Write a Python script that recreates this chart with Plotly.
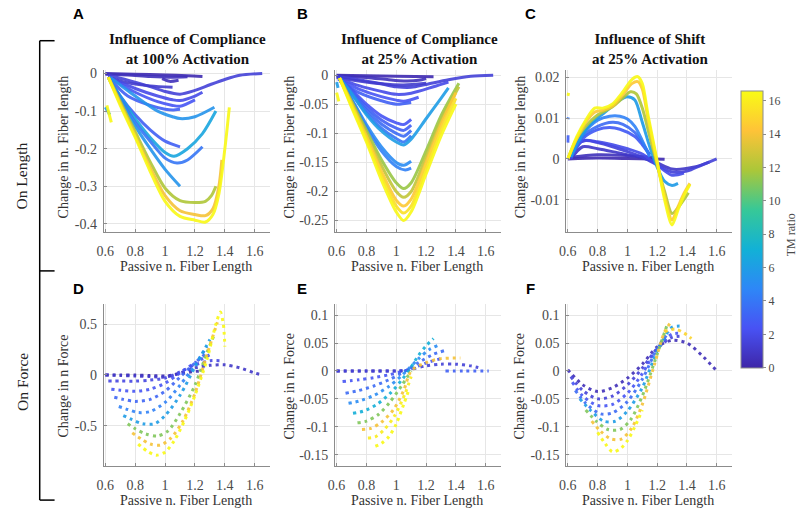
import plotly.graph_objects as go
from plotly.colors import sample_colorscale

W, H = 800, 512

# parula colormap (8 samples)
parula = [[0.0, "#3e26a8"], [0.1429, "#4852f4"], [0.2857, "#2e87f7"], [0.4286, "#12b1d6"],
          [0.5714, "#37c897"], [0.7143, "#abc739"], [0.8571, "#fec338"], [1.0, "#f9fb15"]]
TM_MAX = 16.6
cb_ticks = [0, 2, 4, 6, 8, 10, 12, 14, 16]

x_ticks = [0.6, 0.8, 1.0, 1.2, 1.4, 1.6]
x_tick_text = ["0.6", "0.8", "1", "1.2", "1.4", "1.6"]

# ---- panel A : compliance, 100% activation, on length
a_tm = [0.3, 0.6, 0.6, 1.5, 1.2, 2.0, 2.5, 3.0, 5.5, 3.0, 6.5, 4.0, 5.5, 12.0, 14.0, 16.5, 6.0, 16.5]
a_x = [
    [0.60, 0.80, 1.00, 1.15, 1.25],
    [0.60, 0.75, 0.90, 1.05, 1.15],
    [0.98, 1.03, 1.09],
    [0.62, 0.75, 0.90, 1.00, 1.10, 1.20, 1.30, 1.40, 1.50, 1.65],
    [0.63, 0.75, 0.90, 1.05],
    [0.62, 0.80, 0.95, 1.05, 1.10, 1.20, 1.25],
    [0.62, 0.80, 0.95, 1.05, 1.10, 1.20],
    [0.62, 0.75, 0.90, 1.00, 1.05, 1.10],
    [0.63, 0.80, 0.95, 1.05, 1.10, 1.20, 1.33],
    [0.62, 0.70, 0.80, 0.90, 1.00, 1.10],
    [0.62, 0.70, 0.80, 0.90, 1.00, 1.06, 1.15, 1.25, 1.34],
    [0.62, 0.70, 0.80, 0.90, 1.00, 1.08, 1.15, 1.25],
    [0.62, 0.70, 0.80, 0.90, 1.00, 1.10],
    [0.62, 0.70, 0.80, 0.90, 1.00, 1.10, 1.20, 1.27, 1.31, 1.34],
    [0.62, 0.70, 0.80, 0.90, 1.00, 1.10, 1.20, 1.27, 1.32, 1.36, 1.38],
    [0.62, 0.70, 0.80, 0.90, 1.00, 1.10, 1.20, 1.27, 1.32, 1.36, 1.40, 1.43],
    [0.60, 0.63],
    [0.61, 0.64],
]
a_y = [
    [0.0, -0.002, -0.004, -0.006, -0.008],
    [-0.002, -0.004, -0.008, -0.010, -0.009],
    [-0.014, -0.021, -0.018],
    [-0.005, -0.018, -0.035, -0.048, -0.055, -0.045, -0.030, -0.016, -0.005, 0.0],
    [-0.012, -0.025, -0.033, -0.037],
    [-0.010, -0.040, -0.060, -0.070, -0.072, -0.060, -0.050],
    [-0.010, -0.050, -0.075, -0.085, -0.087, -0.070],
    [-0.010, -0.060, -0.085, -0.095, -0.097, -0.095],
    [-0.010, -0.060, -0.100, -0.115, -0.120, -0.115, -0.090],
    [-0.010, -0.060, -0.110, -0.150, -0.180, -0.195],
    [-0.010, -0.060, -0.120, -0.170, -0.210, -0.220, -0.200, -0.160, -0.100],
    [-0.010, -0.065, -0.130, -0.180, -0.225, -0.238, -0.230, -0.195],
    [-0.010, -0.070, -0.140, -0.200, -0.255, -0.300],
    [-0.010, -0.075, -0.155, -0.235, -0.305, -0.338, -0.343, -0.340, -0.325, -0.300],
    [-0.010, -0.080, -0.165, -0.250, -0.325, -0.365, -0.375, -0.378, -0.360, -0.300, -0.230],
    [-0.010, -0.085, -0.170, -0.260, -0.340, -0.380, -0.390, -0.395, -0.375, -0.320, -0.200, -0.090],
    [-0.090, -0.110],
    [-0.085, -0.130],
]
a_yticks = [0, -0.1, -0.2, -0.3, -0.4]
a_yticktext = ["0", "-0.1", "-0.2", "-0.3", "-0.4"]

# ---- panel B : compliance, 25% activation, on length
b_tm = [0.3, 0.6, 1.5, 1.2, 2.0, 2.5, 3.0, 2.5, 3.0, 3.5, 4.0, 6.0, 5.0, 4.5,
        11.5, 12.5, 14.5, 15.5, 16.5, 16.5, 6.0]
b_x = [
    [0.60, 0.80, 1.00, 1.25],
    [0.60, 0.80, 0.95, 1.05, 1.15, 1.20],
    [0.60, 0.75, 0.90, 1.00, 1.10, 1.20, 1.35, 1.50, 1.65],
    [0.60, 0.75, 0.90, 1.05, 1.20],
    [0.61, 0.75, 0.90, 1.00, 1.10, 1.25, 1.35],
    [0.61, 0.75, 0.90, 1.00, 1.05, 1.15],
    [0.62, 0.75, 0.90, 1.00, 1.10],
    [0.62, 0.70, 0.80, 0.90, 1.00, 1.05, 1.10],
    [0.62, 0.70, 0.80, 0.90, 1.00, 1.05, 1.10],
    [0.62, 0.70, 0.80, 0.90, 1.00, 1.05, 1.10],
    [0.62, 0.70, 0.80, 0.90, 1.00, 1.05, 1.10],
    [0.62, 0.70, 0.80, 0.90, 1.00, 1.05, 1.10, 1.20, 1.30, 1.35],
    [0.62, 0.70, 0.80, 0.90, 1.00, 1.05, 1.10],
    [0.62, 0.70, 0.80, 0.90, 1.00, 1.06, 1.10],
    [0.62, 0.70, 0.80, 0.90, 1.00, 1.05, 1.10, 1.20, 1.30, 1.42],
    [0.62, 0.70, 0.80, 0.90, 1.00, 1.05, 1.10, 1.20, 1.30, 1.42],
    [0.62, 0.70, 0.80, 0.90, 1.00, 1.05, 1.10, 1.20, 1.30, 1.40],
    [0.62, 0.70, 0.80, 0.90, 1.00, 1.05, 1.10, 1.20, 1.30, 1.40],
    [0.62, 0.70, 0.80, 0.90, 1.00, 1.05, 1.10, 1.20, 1.30, 1.40],
    [0.60, 0.615],
    [0.60, 0.61],
]
b_y = [
    [0.0, -0.001, -0.002, -0.003],
    [-0.001, -0.004, -0.008, -0.010, -0.009, -0.006],
    [-0.002, -0.008, -0.015, -0.020, -0.021, -0.016, -0.008, -0.002, 0.0],
    [-0.004, -0.010, -0.015, -0.017, -0.014],
    [-0.005, -0.018, -0.028, -0.033, -0.031, -0.020, -0.012],
    [-0.007, -0.024, -0.037, -0.043, -0.045, -0.038],
    [-0.010, -0.030, -0.044, -0.050, -0.047],
    [-0.005, -0.025, -0.050, -0.070, -0.082, -0.085, -0.076],
    [-0.005, -0.027, -0.055, -0.077, -0.091, -0.095, -0.086],
    [-0.005, -0.029, -0.060, -0.084, -0.100, -0.105, -0.095],
    [-0.005, -0.031, -0.065, -0.091, -0.109, -0.115, -0.104],
    [-0.005, -0.032, -0.068, -0.096, -0.115, -0.120, -0.110, -0.075, -0.040, -0.022],
    [-0.005, -0.040, -0.085, -0.123, -0.150, -0.155, -0.148],
    [-0.005, -0.042, -0.090, -0.130, -0.157, -0.163, -0.160],
    [-0.005, -0.045, -0.095, -0.145, -0.185, -0.195, -0.185, -0.130, -0.070, -0.014],
    [-0.005, -0.047, -0.100, -0.155, -0.200, -0.210, -0.200, -0.140, -0.078, -0.020],
    [-0.005, -0.050, -0.105, -0.165, -0.215, -0.225, -0.213, -0.150, -0.085, -0.030],
    [-0.005, -0.052, -0.110, -0.172, -0.225, -0.237, -0.225, -0.160, -0.095, -0.040],
    [-0.005, -0.055, -0.115, -0.180, -0.235, -0.250, -0.235, -0.170, -0.105, -0.050],
    [-0.030, -0.045],
    [-0.012, -0.022],
]
b_yticks = [0, -0.05, -0.1, -0.15, -0.2, -0.25]
b_yticktext = ["0", "-0.05", "-0.1", "-0.15", "-0.2", "-0.25"]

# ---- panel C : shift, 25% activation, on length
c_tm = [0.3, 0.6, 1.0, 1.5, 2.0, 2.8, 3.5, 4.5, 6.0, 12.0, 14.5, 16.5, 16.5, 4.0, 3.0]
c_x = [
    [0.60, 0.80, 1.00, 1.25],
    [0.60, 0.80, 1.00, 1.20],
    [0.62, 0.70, 0.80, 0.90, 1.00, 1.10, 1.20, 1.30, 1.45, 1.55],
    [0.62, 0.66, 0.72, 0.80, 0.90, 1.00, 1.10, 1.15, 1.20, 1.30, 1.40, 1.50, 1.60],
    [0.62, 0.70, 0.80, 0.90, 1.00, 1.10, 1.20, 1.30, 1.38],
    [0.62, 0.70, 0.80, 0.88, 0.95, 1.05, 1.10, 1.15],
    [0.62, 0.70, 0.80, 0.90, 0.97, 1.05, 1.10, 1.15],
    [0.62, 0.70, 0.80, 0.88, 0.95, 1.00, 1.05, 1.10, 1.15],
    [0.62, 0.68, 0.75, 0.85, 0.95, 1.00, 1.05, 1.10, 1.15, 1.20, 1.25, 1.30, 1.34],
    [0.60, 0.66, 0.72, 0.80, 0.90, 0.97, 1.02, 1.06, 1.10, 1.15, 1.20, 1.25, 1.30, 1.35, 1.41],
    [0.60, 0.66, 0.72, 0.78, 0.84, 0.90, 0.97, 1.03, 1.07, 1.10, 1.14, 1.20, 1.25, 1.30, 1.34, 1.38, 1.42],
    [0.60, 0.66, 0.72, 0.78, 0.84, 0.90, 0.97, 1.03, 1.07, 1.10, 1.14, 1.20, 1.25, 1.30, 1.34, 1.38, 1.42],
    [0.600, 0.605],
    [0.600, 0.603],
    [0.600, 0.601],
]
c_y = [
    [0.0, 0.0002, 0.0001, -0.0001],
    [0.0003, 0.0010, 0.0008, 0.0003],
    [0.0, 0.0030, 0.0025, 0.0018, 0.0010, 0.0003, -0.0010, -0.0025, -0.0020, -0.0008],
    [0.0, 0.0035, 0.0045, 0.0040, 0.0030, 0.0018, 0.0005, -0.0005, -0.0015, -0.0032, -0.0030, -0.0015, 0.0],
    [0.0, 0.0045, 0.0042, 0.0035, 0.0025, 0.0012, -0.0015, -0.0040, -0.0035],
    [0.0005, 0.0050, 0.0072, 0.0077, 0.0073, 0.0055, 0.0035, 0.0010],
    [0.0005, 0.0055, 0.0080, 0.0090, 0.0085, 0.0065, 0.0040, 0.0010],
    [0.0005, 0.0060, 0.0095, 0.0105, 0.0105, 0.0098, 0.0080, 0.0045, 0.0005],
    [0.0005, 0.0050, 0.0085, 0.0115, 0.0145, 0.0153, 0.0145, 0.0090, 0.0030, -0.0020, -0.0055, -0.0065, -0.0060],
    [0.0, 0.0050, 0.0080, 0.0108, 0.0128, 0.0150, 0.0165, 0.0160, 0.0125, 0.0055, -0.0015, -0.0080, -0.0134, -0.0115, -0.0083],
    [0.0, 0.0050, 0.0090, 0.0115, 0.0120, 0.0130, 0.0158, 0.0185, 0.0190, 0.0172, 0.0095, -0.0010, -0.0090, -0.0150, -0.0118, -0.0085, -0.0060],
    [0.0, 0.0055, 0.0095, 0.0125, 0.0125, 0.0135, 0.0165, 0.0195, 0.0202, 0.0185, 0.0105, -0.0005, -0.0100, -0.0162, -0.0125, -0.0090, -0.0063],
    [0.0155, 0.0162],
    [0.0098, 0.0102],
    [0.0040, 0.0058],
]
c_yticks = [0.02, 0.01, 0, -0.01]
c_yticktext = ["0.02", "0.01", "0", "-0.01"]

# ---- panel D : compliance, 100% activation, on force
d_tm = [0.3, 1.0, 1.8, 2.5, 3.2, 4.5, 6.0, 11.0, 14.0, 16.5]
d_x = [
    [0.60, 0.70, 0.80, 0.90, 1.00, 1.05, 1.10, 1.20, 1.25],
    [0.60, 0.70, 0.80, 0.90, 1.00, 1.10, 1.20, 1.30, 1.40, 1.50, 1.60, 1.65],
    [0.62, 0.70, 0.80, 0.90, 1.00, 1.10, 1.20, 1.30, 1.38],
    [0.64, 0.70, 0.80, 0.90, 1.00, 1.10, 1.20, 1.30],
    [0.66, 0.72, 0.80, 0.90, 1.00, 1.10, 1.20, 1.28],
    [0.69, 0.75, 0.82, 0.90, 1.00, 1.10, 1.20, 1.28],
    [0.72, 0.78, 0.85, 0.93, 1.00, 1.10, 1.20, 1.30],
    [0.75, 0.80, 0.87, 0.95, 1.02, 1.10, 1.20, 1.28, 1.33],
    [0.78, 0.84, 0.90, 0.97, 1.04, 1.12, 1.20, 1.28, 1.35],
    [0.82, 0.88, 0.94, 1.00, 1.06, 1.13, 1.20, 1.28, 1.34, 1.37, 1.39, 1.40],
]
d_y = [
    [0.0, 0.0, 0.0, -0.005, -0.010, 0.0, 0.015, 0.035, 0.040],
    [0.0, -0.005, -0.010, -0.015, -0.020, 0.020, 0.070, 0.095, 0.100, 0.070, 0.020, 0.0],
    [-0.06, -0.06, -0.06, -0.05, -0.03, 0.03, 0.10, 0.14, 0.14],
    [-0.14, -0.15, -0.16, -0.14, -0.08, 0.02, 0.12, 0.20],
    [-0.22, -0.24, -0.26, -0.24, -0.16, -0.02, 0.12, 0.22],
    [-0.31, -0.34, -0.37, -0.36, -0.27, -0.10, 0.10, 0.28],
    [-0.40, -0.44, -0.48, -0.48, -0.40, -0.20, 0.08, 0.35],
    [-0.48, -0.53, -0.58, -0.60, -0.55, -0.38, -0.10, 0.22, 0.40],
    [-0.57, -0.63, -0.68, -0.69, -0.62, -0.45, -0.18, 0.20, 0.52],
    [-0.68, -0.75, -0.79, -0.76, -0.65, -0.45, -0.20, 0.15, 0.50, 0.62, 0.50, 0.28],
]
d_yticks = [0.5, 0, -0.5]
d_yticktext = ["0.5", "0", "-0.5"]

# ---- panel E : compliance, 25% activation, on force
e_tm = [0.3, 1.5, 2.5, 3.5, 5.0, 7.0, 11.0, 14.0, 16.0, 16.5, 3.0]
e_x = [
    [0.60, 0.80, 1.00, 1.05],
    [0.60, 0.80, 1.00, 1.10, 1.20, 1.30, 1.40, 1.50, 1.55],
    [0.64, 0.75, 0.85, 0.95, 1.03, 1.08, 1.15, 1.22, 1.30],
    [0.66, 0.75, 0.85, 0.95, 1.03, 1.08, 1.15, 1.25, 1.32],
    [0.68, 0.75, 0.85, 0.95, 1.03, 1.08, 1.15, 1.22, 1.28],
    [0.71, 0.78, 0.87, 0.96, 1.04, 1.09, 1.15, 1.20, 1.25],
    [0.74, 0.80, 0.88, 0.96, 1.04, 1.10],
    [0.77, 0.83, 0.90, 0.98, 1.05, 1.10, 1.20, 1.30, 1.43],
    [0.81, 0.86, 0.92, 0.99, 1.06, 1.10],
    [0.86, 0.90, 0.95, 1.00, 1.05, 1.09],
    [1.33, 1.45, 1.62],
]
e_y = [
    [0.0, 0.0, 0.0, 0.0],
    [0.0, 0.0, 0.0, 0.003, 0.009, 0.012, 0.012, 0.009, 0.006],
    [-0.019, -0.016, -0.012, -0.007, -0.002, 0.002, 0.009, 0.016, 0.022],
    [-0.040, -0.035, -0.027, -0.016, -0.005, 0.003, 0.015, 0.030, 0.036],
    [-0.058, -0.054, -0.044, -0.028, -0.010, 0.003, 0.022, 0.038, 0.046],
    [-0.076, -0.072, -0.060, -0.040, -0.015, 0.003, 0.028, 0.045, 0.058],
    [-0.093, -0.090, -0.078, -0.055, -0.025, 0.0],
    [-0.105, -0.103, -0.092, -0.070, -0.035, 0.0, 0.015, 0.022, 0.023],
    [-0.120, -0.118, -0.105, -0.080, -0.040, -0.010],
    [-0.135, -0.130, -0.118, -0.095, -0.060, -0.030],
    [0.0, 0.0, 0.0],
]
e_yticks = [0.1, 0.05, 0, -0.05, -0.1, -0.15]
e_yticktext = ["0.1", "0.05", "0", "-0.05", "-0.1", "-0.15"]

# ---- panel F : shift, 25% activation, on force
f_tm = [0.5, 1.5, 2.5, 3.5, 6.0, 11.0, 14.0, 16.5, 15.0]
f_x = [
    [0.60, 0.70, 0.80, 0.90, 1.00, 1.10, 1.20, 1.30, 1.40, 1.50, 1.60],
    [0.62, 0.70, 0.80, 0.90, 1.00, 1.10, 1.20, 1.30, 1.35],
    [0.63, 0.70, 0.80, 0.90, 1.00, 1.10, 1.20, 1.30, 1.36],
    [0.65, 0.72, 0.82, 0.90, 1.00, 1.10, 1.20, 1.28],
    [0.68, 0.75, 0.84, 0.92, 1.00, 1.10, 1.20, 1.30, 1.38],
    [0.72, 0.79, 0.87, 0.95, 1.02, 1.10, 1.20, 1.27],
    [0.76, 0.82, 0.89, 0.96, 1.03, 1.10, 1.18, 1.25, 1.30],
    [0.80, 0.85, 0.90, 0.95, 1.00, 1.05, 1.10],
    [1.25, 1.32, 1.38, 1.43],
]
f_y = [
    [0.002, -0.025, -0.037, -0.030, -0.013, 0.012, 0.043, 0.055, 0.050, 0.028, 0.0],
    [-0.010, -0.035, -0.050, -0.045, -0.025, 0.005, 0.040, 0.060, 0.062],
    [-0.020, -0.045, -0.062, -0.060, -0.040, -0.005, 0.040, 0.066, 0.067],
    [-0.035, -0.058, -0.077, -0.075, -0.055, -0.015, 0.040, 0.070],
    [-0.050, -0.070, -0.090, -0.090, -0.072, -0.030, 0.035, 0.078, 0.080],
    [-0.070, -0.090, -0.105, -0.105, -0.088, -0.045, 0.030, 0.085],
    [-0.090, -0.108, -0.122, -0.122, -0.102, -0.060, 0.010, 0.070, 0.090],
    [-0.110, -0.130, -0.145, -0.140, -0.125, -0.100, -0.070],
    [0.070, 0.075, 0.068, 0.058],
]
f_yticks = e_yticks
f_yticktext = e_yticktext

# panel boxes in pixels: left, right, top, bottom
panels = [
    dict(box=(97.7, 265, 66.7, 230), yr=[-0.422, 0.0087], tm=a_tm, xs=a_x, ys=a_y, yt=a_yticks, ytt=a_yticktext, dotted=False),
    dict(box=(331, 498, 66.7, 230), yr=[-0.270, 0.0085], tm=b_tm, xs=b_x, ys=b_y, yt=b_yticks, ytt=b_yticktext, dotted=False),
    dict(box=(564.3, 731, 66.7, 230), yr=[-0.018, 0.0218], tm=c_tm, xs=c_x, ys=c_y, yt=c_yticks, ytt=c_yticktext, dotted=False),
    dict(box=(97.7, 265, 302.3, 466), yr=[-0.90, 0.70], tm=d_tm, xs=d_x, ys=d_y, yt=d_yticks, ytt=d_yticktext, dotted=True),
    dict(box=(331, 498, 302.3, 466), yr=[-0.171, 0.12], tm=e_tm, xs=e_x, ys=e_y, yt=e_yticks, ytt=e_yticktext, dotted=True),
    dict(box=(564.3, 731, 302.3, 466), yr=[-0.171, 0.12], tm=f_tm, xs=f_x, ys=f_y, yt=f_yticks, ytt=f_yticktext, dotted=True),
]

SERIF = "Liberation Serif"
fig = go.Figure()
layout = {}

for i, p in enumerate(panels):
    n = i + 1
    sfx = "" if n == 1 else str(n)
    l, r, t, b = p["box"]
    for tm, x, y in zip(p["tm"], p["xs"], p["ys"]):
        col = sample_colorscale(parula, [tm / TM_MAX])[0]
        line = dict(color=col, width=3, shape="spline", smoothing=0.8)
        if p["dotted"]:
            line["dash"] = "3px,4px"
        fig.add_trace(go.Scatter(x=x, y=y, mode="lines", line=line, opacity=0.9,
                                 xaxis="x" + sfx, yaxis="y" + sfx, hoverinfo="skip"))
    common = dict(showline=True, linecolor="#8c8c8c", linewidth=1, showgrid=True,
                  gridcolor="#e6e6e6", zeroline=False, ticks="inside", ticklen=3,
                  tickcolor="#8c8c8c", tickfont=dict(family=SERIF, size=14, color="#4a4a4a"))
    layout["xaxis" + sfx] = dict(common, domain=[l / W, r / W], anchor="y" + sfx,
                                 range=[0.59, 1.70], tickvals=x_ticks, ticktext=x_tick_text,
                                 ticklabelstandoff=6)
    layout["yaxis" + sfx] = dict(common, domain=[1 - b / H, 1 - t / H], anchor="x" + sfx,
                                 range=p["yr"], tickvals=p["yt"], ticktext=p["ytt"],
                                 ticklabelstandoff=3)

# colorbar
fig.add_trace(go.Scatter(
    x=[None], y=[None], mode="markers", hoverinfo="skip",
    marker=dict(color=[0], cmin=0, cmax=TM_MAX, colorscale=parula, showscale=True,
                colorbar=dict(x=740.7 / W, xanchor="left", xpad=0, ypad=0,
                              thickness=22, thicknessmode="pixels",
                              len=(366.7 - 87.3) / H, lenmode="fraction",
                              y=1 - (87.3 + 366.7) / 2 / H, yanchor="middle",
                              tickvals=cb_ticks, ticks="outside", ticklen=3, tickcolor="#8c8c8c",
                              outlinewidth=1, outlinecolor="#8c8c8c",
                              tickfont=dict(family=SERIF, size=12, color="#4a4a4a")))))

ann = []
def txt(x, y, s, size=14, bold=False, angle=0, family=SERIF, color="#333333"):
    ann.append(dict(x=x / W, y=1 - y / H, xref="paper", yref="paper", text=("<b>%s</b>" % s) if bold else s,
                    showarrow=False, textangle=angle, xanchor="center", yanchor="middle",
                    font=dict(family=family, size=size, color=color)))

titles = ["Influence of Compliance<br>at 100% Activation",
          "Influence of Compliance<br>at 25% Activation",
          "Influence of Shift<br>at 25% Activation"]
for cx, s in zip([182, 416, 649], titles):
    txt(cx, 45, s, size=15, bold=True, color="#111111")

for cx, s in zip([72, 298, 528], ["A", "B", "C"]):
    txt(cx, 10, s, size=15, bold=True, family="Liberation Sans", color="#000000")
for cx, s in zip([72, 298, 528], ["D", "E", "F"]):
    txt(cx, 287, s, size=15, bold=True, family="Liberation Sans", color="#000000")

for cx in [181, 414, 647]:
    txt(cx, 265, "Passive n. Fiber Length")
    txt(cx, 500, "Passive n. Fiber Length")

for cx in [57, 285, 518]:
    txt(cx, 144, "Change in n. Fiber length", angle=-90)
txt(57, 385, "Change in n Force", angle=-90)
txt(285, 385, "Change in n. Force", angle=-90)
txt(518, 385, "Change in n. Force", angle=-90)

txt(15, 173, "On Length", size=15.5, angle=-90, color="#222222")
txt(15, 381, "On Force", size=15.5, angle=-90, color="#222222")

# colorbar label
txt(791, 233, "TM ratio", size=12, angle=-90, color="#4a4a4a")

shapes = []
def seg(x0, y0, x1, y1):
    shapes.append(dict(type="line", xref="paper", yref="paper", x0=x0 / W, y0=1 - y0 / H,
                       x1=x1 / W, y1=1 - y1 / H, line=dict(color="#000000", width=1.5)))
seg(33, 37, 33, 500)
seg(33, 37, 48, 37)
seg(33, 269, 48, 269)
seg(33, 500, 48, 500)

fig.update_layout(**layout)
fig.update_layout(width=W, height=H, margin=dict(l=0, r=0, t=0, b=0),
                  paper_bgcolor="white", plot_bgcolor="white", showlegend=False,
                  annotations=ann, shapes=shapes)

# page body has a default 8px margin; drop it so the figure fills the window
fig.write_html("out.html", config={"displayModeBar": False},
               post_script="document.body.style.margin='0px';")
